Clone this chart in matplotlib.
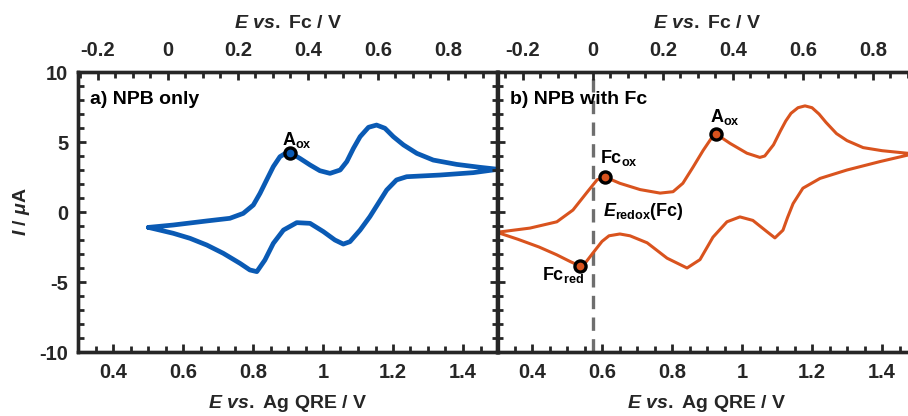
import matplotlib
matplotlib.use('Agg')
import matplotlib.pyplot as plt
from matplotlib.ticker import MultipleLocator, FixedLocator, FuncFormatter

plt.rcParams['font.family'] = ['Liberation Sans', 'DejaVu Sans']
plt.rcParams['font.weight'] = 'bold'
plt.rcParams['axes.labelweight'] = 'bold'
plt.rcParams['axes.unicode_minus'] = False
plt.rcParams['mathtext.fontset'] = 'custom'
plt.rcParams['mathtext.rm'] = 'Liberation Sans:bold'
plt.rcParams['mathtext.it'] = 'Liberation Sans:italic:bold'
plt.rcParams['mathtext.bf'] = 'Liberation Sans:bold'
plt.rcParams['xtick.direction'] = 'in'
plt.rcParams['ytick.direction'] = 'in'
plt.rcParams['xtick.major.size'] = 6
plt.rcParams['ytick.major.size'] = 6
plt.rcParams['xtick.minor.size'] = 4
plt.rcParams['ytick.minor.size'] = 4
plt.rcParams['xtick.major.width'] = 2
plt.rcParams['ytick.major.width'] = 2
plt.rcParams['xtick.minor.width'] = 2
plt.rcParams['ytick.minor.width'] = 2

# a) NPB only: forward (oxidation) and reverse scans, E vs Ag QRE / V and I / uA
npb_fwd_x = [0.501, 0.572, 0.668, 0.734, 0.772, 0.801, 0.820, 0.839, 0.858, 0.877, 0.896, 0.906,
             0.934, 0.963, 0.991, 1.020, 1.049, 1.068, 1.087, 1.106, 1.130, 1.153, 1.177, 1.201,
             1.230, 1.268, 1.315, 1.382, 1.449, 1.500]
npb_fwd_y = [-1.10, -0.93, -0.64, -0.45, -0.10, 0.50, 1.33, 2.29, 3.24, 3.95, 4.24, 4.24,
             3.83, 3.36, 2.95, 2.76, 3.00, 3.60, 4.55, 5.38, 6.05, 6.21, 5.98, 5.38,
             4.79, 4.19, 3.71, 3.40, 3.19, 3.05]
npb_rev_x = [1.500, 1.429, 1.334, 1.239, 1.210, 1.182, 1.158, 1.134, 1.106, 1.077, 1.058, 1.034,
             1.001, 0.963, 0.925, 0.887, 0.858, 0.834, 0.811, 0.791, 0.763, 0.715, 0.668, 0.620,
             0.572, 0.525, 0.501]
npb_rev_y = [3.05, 2.81, 2.64, 2.52, 2.29, 1.57, 0.62, -0.33, -1.29, -2.12, -2.29, -2.00,
             -1.40, -0.81, -0.76, -1.29, -2.24, -3.43, -4.26, -4.14, -3.67, -2.95, -2.36, -1.88,
             -1.52, -1.24, -1.10]

# b) NPB with Fc
fc_fwd_x = [0.300, 0.394, 0.471, 0.517, 0.557, 0.586, 0.609, 0.651, 0.709, 0.766, 0.803, 0.831,
            0.860, 0.889, 0.912, 0.926, 0.966, 1.014, 1.051, 1.065, 1.090, 1.110, 1.125, 1.140,
            1.160, 1.180, 1.200, 1.220, 1.240, 1.270, 1.300, 1.346, 1.400, 1.471, 1.500]
fc_fwd_y = [-1.45, -1.15, -0.70, 0.14, 1.40, 2.30, 2.50, 2.05, 1.60, 1.35, 1.45, 2.05,
            3.20, 4.40, 5.25, 5.57, 4.90, 4.20, 3.90, 4.00, 4.80, 5.80, 6.50, 7.05,
            7.45, 7.58, 7.45, 7.00, 6.40, 5.60, 5.10, 4.60, 4.38, 4.20, 4.15]
fc_rev_x = [1.500, 1.471, 1.394, 1.300, 1.223, 1.174, 1.146, 1.130, 1.117, 1.094, 1.071, 1.031,
            0.994, 0.957, 0.917, 0.880, 0.843, 0.786, 0.729, 0.680, 0.651, 0.620, 0.600, 0.575,
            0.555, 0.537, 0.510, 0.470, 0.420, 0.360, 0.300]
fc_rev_y = [4.15, 4.05, 3.60, 3.00, 2.40, 1.70, 0.60, -0.40, -1.30, -1.85, -1.40, -0.60,
            -0.35, -0.70, -1.80, -3.40, -4.00, -3.30, -2.20, -1.70, -1.57, -1.70, -2.10, -2.90,
            -3.55, -3.85, -3.55, -3.05, -2.50, -1.95, -1.45]

# marked points
npb_aox = (0.906, 4.24)
fc_aox = (0.926, 5.57)
fc_ox = (0.609, 2.50)
fc_red = (0.537, -3.85)

# Fc/Fc+ redox potential vs Ag QRE for each panel
fc_offset_a = 0.557
fc_offset_b = 0.574
top_ticks = [-0.2, 0, 0.2, 0.4, 0.6, 0.8]

blue = '#0a5ab4'
orange = '#d9531e'
dark = '#262626'


def fmt(v, pos):
    v = round(v, 6) + 0.0
    return f'{v:g}'


def style(ax, offset):
    ax.set_xlim(0.3, 1.5)
    ax.set_ylim(-10, 10)
    ax.set_axisbelow(False)
    ax.xaxis.set_major_locator(MultipleLocator(0.2))
    ax.xaxis.set_minor_locator(MultipleLocator(0.05))
    ax.yaxis.set_major_locator(MultipleLocator(5))
    ax.yaxis.set_minor_locator(MultipleLocator(1))
    ax.xaxis.set_major_formatter(FuncFormatter(fmt))
    ax.yaxis.set_major_formatter(FuncFormatter(fmt))
    for s in ax.spines.values():
        s.set_linewidth(2.4)
        s.set_color(dark)
    ax.set_xlabel(r'$E\ vs.$ Ag QRE / V', fontsize=14, color=dark, labelpad=8)

    # top axis: same scan, potential referenced to Fc/Fc+
    top = ax.twiny()
    top.set_xlim(0.3 - offset, 1.5 - offset)
    top.xaxis.set_major_locator(FixedLocator(top_ticks))
    top.xaxis.set_minor_locator(MultipleLocator(0.05))
    top.xaxis.set_major_formatter(FuncFormatter(fmt))
    for s in top.spines.values():
        s.set_linewidth(2.4)
        s.set_color(dark)
    top.set_xlabel(r'$E\ vs.$ Fc / V', fontsize=14, color=dark, labelpad=9)
    return top


def ticks(ax, top):
    ax.tick_params(which='both', direction='in', left=True, right=True, top=False,
                   bottom=True, width=2, color=dark, labelsize=14.5, labelcolor=dark,
                   zorder=5)
    ax.tick_params(which='major', length=6)
    ax.tick_params(which='minor', length=4)
    ax.tick_params(axis='x', pad=8)
    ax.tick_params(axis='y', pad=7)
    top.tick_params(axis='x', which='both', direction='in', top=True, bottom=False,
                    width=2, color=dark, labelsize=14.5, labelcolor=dark, pad=9, zorder=5)
    top.tick_params(axis='x', which='major', length=6)
    top.tick_params(axis='x', which='minor', length=4)


fig = plt.figure(figsize=(9.08, 4.16), dpi=100)
ax1 = fig.add_axes([78 / 908, 64 / 416, 420 / 908, 280 / 416])
ax2 = fig.add_axes([497 / 908, 64 / 416, 420 / 908, 280 / 416])

# panel a
top1 = style(ax1, fc_offset_a)
ax1.plot(npb_fwd_x + npb_rev_x, npb_fwd_y + npb_rev_y, color=blue, lw=3.4,
         solid_joinstyle='round', solid_capstyle='round')
ax1.plot([npb_aox[0]], [npb_aox[1]], marker='o', ls='none', ms=8, mfc=blue,
         mec='black', mew=2.4)
ax1.text(0.883, 4.8, r'A$_{\mathrm{ox}}$', fontsize=13, color='black')
ax1.text(0.334, 7.75, 'a) NPB only', fontsize=14, color='black')
ax1.set_ylabel(r'$I$ / $\mu$A', fontsize=14, color=dark, labelpad=5)

# panel b
top2 = style(ax2, fc_offset_b)
ax2.axvline(fc_offset_b, color='#6e6e6e', lw=2.4, ls=(0, (4, 2.5)), zorder=1)
ax2.plot(fc_fwd_x + fc_rev_x, fc_fwd_y + fc_rev_y, color=orange, lw=2.2,
         solid_joinstyle='round')
for p in (fc_aox, fc_ox, fc_red):
    ax2.plot([p[0]], [p[1]], marker='o', ls='none', ms=8, mfc=orange,
             mec='black', mew=2.4)
ax2.text(0.909, 6.4, r'A$_{\mathrm{ox}}$', fontsize=13, color='black')
ax2.text(0.594, 3.5, r'Fc$_{\mathrm{ox}}$', fontsize=13, color='black')
ax2.text(0.429, -4.85, r'Fc$_{\mathrm{red}}$', fontsize=13, color='black')
ax2.text(0.603, -0.3, r'$E_{\mathrm{redox}}$(Fc)', fontsize=13, color='black')
ax2.text(0.337, 7.75, 'b) NPB with Fc', fontsize=14, color='black')

# tick styling applied last, after all artists are in place
ticks(ax1, top1)
ticks(ax2, top2)
ax2.tick_params(labelleft=False)

fig.savefig('out.png', dpi=100)
